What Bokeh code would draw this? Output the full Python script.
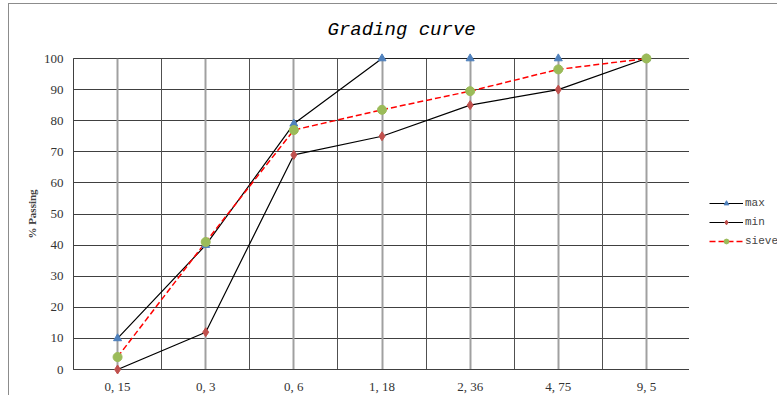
from bokeh.plotting import figure
from bokeh.layouts import row
from bokeh.models import FixedTicker, Legend, LegendItem, Grid, Title, Range1d
from bokeh.embed import file_html
from bokeh.resources import INLINE

sieves = ["0, 15", "0, 3", "0, 6", "1, 18", "2, 36", "4, 75", "9, 5"]
max_vals = [10, 40, 79, 100, 100, 100, 100]
min_vals = [0, 12, 69, 75, 85, 90, 100]
sieve_vals = [4, 41, 77, 83.5, 89.5, 96.5, 100]
y_ticks = list(range(0, 101, 10))
series_names = ["max", "min", "sieve"]
chart_title = "Grading curve"

xs = list(range(len(sieves)))

p = figure(width=681, height=392, output_backend="svg", toolbar_location=None,
           x_range=Range1d(-0.5, len(sieves) - 0.5), y_range=Range1d(0, 100),
           min_border_left=64, min_border_right=0, min_border_top=54, min_border_bottom=22)
p.margin = (3, 0, 0, 8)
p.styles = {"border-top": "1px solid #8c8c8c", "border-left": "1px solid #8c8c8c"}
p.title = None

# spacer between frame and title, then the title itself
p.add_layout(Title(text=" ", text_font_size="1px", standoff=15), "above")
p.add_layout(Title(text=chart_title, align="left", text_font="Liberation Mono",
                   text_font_style="italic", text_font_size="19px", text_color="#000000",
                   offset=254, standoff=0), "above")

p.outline_line_color = "#404040"
p.outline_line_width = 1

p.xgrid.visible = False
p.ygrid.ticker = FixedTicker(ticks=y_ticks)
p.ygrid.grid_line_color = "#404040"
p.ygrid.grid_line_width = 1

mid_grid = Grid(dimension=0, ticker=FixedTicker(ticks=[i - 0.5 for i in xs] + [len(sieves) - 0.5]),
                grid_line_color="#505050", grid_line_width=1)
cat_grid = Grid(dimension=0, ticker=FixedTicker(ticks=xs),
                grid_line_color="#a0a0a0", grid_line_width=2)
p.add_layout(mid_grid)
p.add_layout(cat_grid)

p.xaxis.ticker = FixedTicker(ticks=xs)
p.xaxis.major_label_overrides = {i: s for i, s in enumerate(sieves)}
p.yaxis.ticker = FixedTicker(ticks=y_ticks)
for ax in (p.xaxis, p.yaxis):
    ax.major_tick_line_color = None
    ax.minor_tick_line_color = None
    ax.axis_line_color = "#404040"
    ax.major_label_text_font = "Liberation Serif"
    ax.major_label_text_font_size = "13px"
    ax.major_label_text_color = "#333333"
p.xaxis.major_label_standoff = 3
p.yaxis.major_label_standoff = 4
p.yaxis.axis_label = "% Passing"
p.yaxis.axis_label_text_font = "Liberation Serif"
p.yaxis.axis_label_text_font_size = "11px"
p.yaxis.axis_label_text_font_style = "bold"
p.yaxis.axis_label_standoff = 3

styles = [
    dict(line=dict(line_color="black", line_width=1.2),
         marker=dict(marker="triangle", size=8, fill_color="#4f81bd", line_color="#4f81bd")),
    dict(line=dict(line_color="black", line_width=1.2),
         marker=dict(marker="diamond", size=9, fill_color="#c0504d", line_color="#c0504d")),
    dict(line=dict(line_color="#ff0000", line_width=1.5, line_dash="6 3"),
         marker=dict(marker="circle", size=9, fill_color="#9bbb59", line_color="#9bbb59")),
]
for vals, st in zip([max_vals, min_vals, sieve_vals], styles):
    p.line(xs, vals, **st["line"])
    p.scatter(xs, vals, level="overlay", **st["marker"])

# legend panel (proxy glyphs placed outside the visible range)
q = figure(width=88, height=392, output_backend="svg", toolbar_location=None,
           x_range=Range1d(0, 1), y_range=Range1d(0, 1),
           min_border_left=0, min_border_right=0, min_border_top=0, min_border_bottom=0)
q.margin = (3, 0, 0, 0)
q.styles = {"border-top": "1px solid #8c8c8c"}
q.axis.visible = False
q.grid.visible = False
q.outline_line_color = None
items = []
for name, st in zip(series_names, styles):
    r1 = q.line([-10, -9], [-10, -10], **st["line"])
    r2 = q.scatter([-10], [-10], **st["marker"])
    items.append(LegendItem(label=name, renderers=[r1, r2]))
legend = Legend(items=items, location=(20, 122), border_line_color=None, background_fill_alpha=0,
                label_text_font="Liberation Mono", label_text_font_size="11px",
                glyph_width=34, glyph_height=12, spacing=7, padding=0, margin=0,
                label_standoff=2)
q.add_layout(legend)

layout = row(p, q, spacing=0)
open("out.html", "w").write(file_html(layout, INLINE))
